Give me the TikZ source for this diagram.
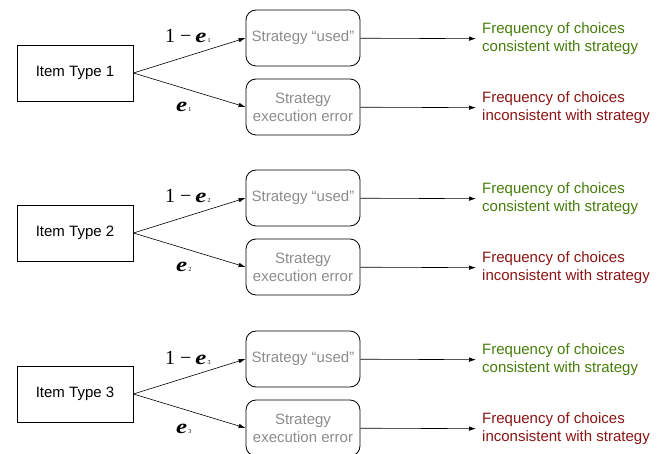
\documentclass[tikz,border=0pt]{standalone}
\usepackage{fontspec}
\setmainfont{Liberation Sans}
\newfontfamily\tms{Liberation Serif}
\usetikzlibrary{arrows.meta}
\definecolor{tgray}{RGB}{140,140,140}
\definecolor{tgreen}{RGB}{70,125,10}
\definecolor{tred}{RGB}{140,20,20}
\newcommand{\ee}[1]{\scalebox{1.25}[1]{\textbf{\textit{e}}}\hspace{1pt}{\fontsize{6}{6}\selectfont #1}}
\begin{document}
\begin{tikzpicture}[x=1pt,y=-1pt, font=\fontsize{15}{18}\selectfont,
 item/.style={draw, line width=0.8pt, minimum width=116pt, minimum height=56pt, inner sep=0},
 strat/.style={draw, rounded corners=10pt, line width=0.8pt, minimum width=114pt, minimum height=56pt, align=center, text=tgray, inner sep=0},
 outc/.style={align=left, anchor=west, inner xsep=6pt, inner ysep=0},
 arr/.style={-{Latex[length=7pt,width=4.5pt]}, line width=0.6pt},
 prob/.style={font=\tms\fontsize{20}{22}\selectfont, inner sep=0, anchor=base west}]
\useasboundingbox (0,0) rectangle (664,454);
\foreach \i/\o in {1/0,2/160,3/321}{
 \node[item] (t\i) at (75,73+\o) {Item Type \i};
 \node[strat] (u\i) at (303,38+\o) {Strategy “used”};
 \node[strat] (x\i) at (303,107+\o) {Strategy\\execution error};
 \node[outc, text=tgreen] (g\i) at (476,39+\o) {Frequency of choices\\consistent with strategy};
 \node[outc, text=tred] (r\i) at (476,108+\o) {Frequency of choices\\inconsistent with strategy};
 \draw[arr] (t\i.east) -- (u\i.west);
 \draw[arr] (t\i.east) -- (x\i.west);
 \draw[arr] (u\i) -- (g\i);
 \draw[arr] (x\i) -- (r\i);
 \node[prob] (p\i) at (165,43+\o) {1\hspace{5pt}−\hspace{4pt}\ee{\i}};
 \node[prob] (q\i) at (176,112+\o) {\ee{\i}};
}
\end{tikzpicture}
\end{document}
